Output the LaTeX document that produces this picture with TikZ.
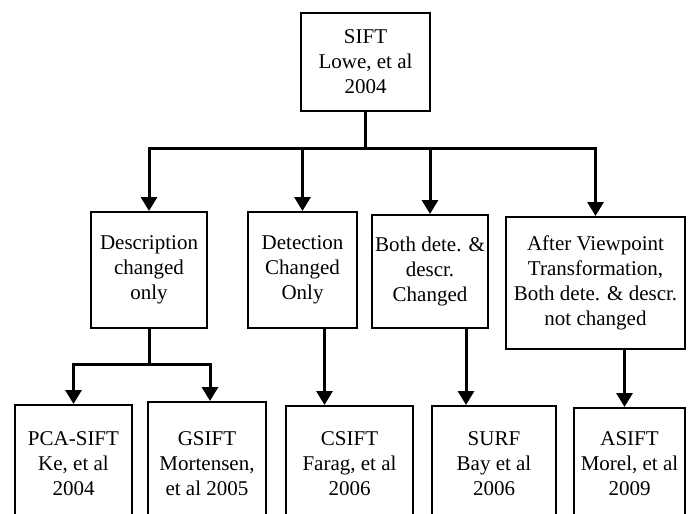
\documentclass[tikz,border=0pt]{standalone}
\usepackage{fontspec}
\setmainfont{Liberation Serif}
\usetikzlibrary{arrows.meta,calc,positioning}

\begin{document}
\begin{tikzpicture}[x=0.5pt,y=-0.5pt,
  box/.style={draw,line width=1pt,align=center,inner sep=0pt,font=\fontsize{10.5}{12.5}\selectfont},
  conn/.style={line width=1.5pt,-{Triangle[width=8pt,length=7pt]}},
  wire/.style={line width=1.5pt}]
  \useasboundingbox (0,0) rectangle (689,513);
  \clip (0,0) rectangle (689,513);
  % root
  \node[box,minimum width=64.5pt,minimum height=49pt] (sift) at (365.5,62) {SIFT\\Lowe, et al\\2004};
  % middle row
  \node[box,minimum width=58pt,minimum height=58pt] (desc) at (149,270) {Description\\changed\\only};
  \node[box,minimum width=54.5pt,minimum height=58pt] (det) at (302.5,270) {Detection\\Changed\\Only};
  \node[box,minimum width=57.75pt,minimum height=56.5pt] (both) at (430,271.5) {Both dete. \&\\descr.\\Changed};
  \node[box,minimum width=89.5pt,minimum height=66pt] (after) at (595.5,283) {After Viewpoint\\Transformation,\\Both dete. \& descr.\\not changed};
  % bottom row (cut by the page edge)
  \node[box,minimum width=58.5pt,minimum height=59pt] (pca) at (73.5,464) {PCA-SIFT\\Ke, et al\\2004};
  \node[box,minimum width=59pt,minimum height=62pt] (gsift) at (207,464) {GSIFT\\Mortensen,\\et al 2005};
  \node[box,minimum width=63.5pt,minimum height=58pt] (csift) at (349.5,464) {CSIFT\\Farag, et al\\2006};
  \node[box,minimum width=62pt,minimum height=58pt] (surf) at (494,464) {SURF\\Bay et al\\2006};
  \node[box,minimum width=55.5pt,minimum height=56pt] (asift) at (629.5,464) {ASIFT\\Morel, et al\\2009};
  % connectors
  \coordinate (split) at (365.5,149);
  \draw[wire] (sift.south) -- (split);
  \foreach \n in {desc,det,both,after}
    \draw[conn] (split) -| (\n.north);
  \coordinate (dsplit) at ($(desc.south)+(0,35)$);
  \draw[wire] (desc.south) -- (dsplit);
  \draw[conn] (dsplit) -| (pca.north);
  \draw[conn] (dsplit) -| ($(gsift.north)+(3,0)$);
  \coordinate (dcs) at ($(det.south)+(22,0)$);
  \draw[conn] (dcs) -- (dcs |- csift.north);
  \coordinate (bsf) at ($(both.south)+(36,0)$);
  \draw[conn] (bsf) -- (bsf |- surf.north);
  \coordinate (aas) at ($(after.south)+(29,0)$);
  \draw[conn] (aas) -- (aas |- asift.north);
\end{tikzpicture}
\end{document}
